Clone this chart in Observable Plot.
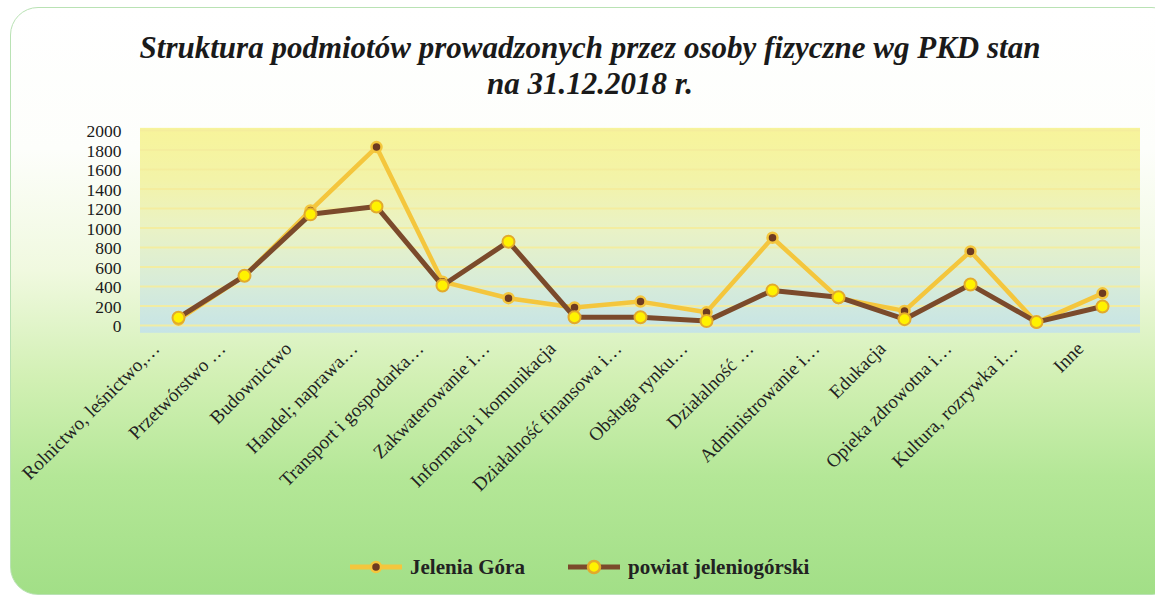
<!DOCTYPE html>
<html>
<head>
<meta charset="utf-8">
<script src="https://cdn.jsdelivr.net/npm/d3@7"></script>
<script src="https://cdn.jsdelivr.net/npm/@observablehq/plot@0.6"></script>
<style>
  html, body { margin: 0; padding: 0; width: 1155px; height: 600px; overflow: hidden; background: #ffffff; }
  #frame {
    position: absolute; left: 10px; top: 7px; width: 1170px; height: 588px;
    border: 1px solid #b9e2b4; border-radius: 28px; box-sizing: border-box;
    background: linear-gradient(to bottom, #ffffff 0%, #fdfefb 24%, #f0f9df 45%, #d2f0b4 63%, #b4e797 80%, #a2df87 100%);
  }
  #title {
    position: absolute; left: 0; top: 30px; width: 1180px; text-align: center;
    font-family: "Liberation Serif", "Times New Roman", serif; font-weight: bold; font-style: italic;
    font-size: 31px; line-height: 36px; color: #1a1a1a;
  }
  #chart { position: absolute; left: 0; top: 105px; }
  #legend {
    position: absolute; left: 0; top: 552px; width: 1155px; height: 30px;
    font-family: "Liberation Serif", "Times New Roman", serif; font-weight: bold; font-size: 21px; color: #222;
  }
  .item { position: absolute; top: 0; display: flex; align-items: center; height: 30px; }
  .item svg { margin-right: 6px; }
</style>
</head>
<body>
<div id="frame"></div>
<div id="title">Struktura podmiotów prowadzonych przez osoby fizyczne wg PKD stan<br>na 31.12.2018 r.</div>
<div id="chart"></div>
<div id="legend"></div>
<script>
const categories = [
  "Rolnictwo, leśnictwo,…",
  "Przetwórstwo …",
  "Budownictwo",
  "Handel; naprawa…",
  "Transport i gospodarka…",
  "Zakwaterowanie i…",
  "Informacja i komunikacja",
  "Działalność finansowa i…",
  "Obsługa rynku…",
  "Działalność …",
  "Administrowanie i…",
  "Edukacja",
  "Opieka zdrowotna i…",
  "Kultura, rozrywka i…",
  "Inne"
];
const jeleniaGora = [60, 510, 1180, 1830, 450, 280, 185, 245, 135, 900, 280, 150, 760, 30, 330];
const powiat = [80, 510, 1140, 1220, 410, 860, 85, 85, 45, 360, 290, 65, 420, 35, 195];
const yTicks = [0, 200, 400, 600, 800, 1000, 1200, 1400, 1600, 1800, 2000];
const seriesNames = ["Jelenia Góra", "powiat jeleniogórski"];

const jgData = categories.map((c, i) => ({cat: c, v: jeleniaGora[i]}));
const pwData = categories.map((c, i) => ({cat: c, v: powiat[i]}));

const JG_LINE = "#f4c63d", JG_DOT = "#6e3b20";
const PW_LINE = "#7b4a2b", PW_DOT = "#fff200", PW_RING = "#e2aa2c";

const serif = "Liberation Serif, Times New Roman, serif";

const plot = Plot.plot({
  width: 1155,
  height: 420,
  marginTop: 25,
  marginBottom: 200,
  marginLeft: 140,
  marginRight: 15,
  style: {background: "transparent", fontFamily: serif, color: "#1a1a1a"},
  x: {type: "point", domain: categories, padding: 0.5, axis: null},
  y: {domain: [0, 2000], axis: null},
  marks: [
    Plot.rectY([0], {y1: -80, y2: 2022, fill: "url(#plotbg)"}),
    Plot.ruleY(yTicks, {stroke: "#f4ec9c", strokeWidth: 2, strokeOpacity: 0.9}),
    Plot.text(yTicks, {
      y: d => d, frameAnchor: "left", textAnchor: "end", lineAnchor: "middle",
      dx: -19, dy: 1, fontSize: 17.5, fontFamily: serif, fill: "#1a1a1a", text: d => String(d)
    }),
    Plot.line(jgData, {x: "cat", y: "v", stroke: JG_LINE, strokeWidth: 4.5}),
    Plot.dot(jgData, {x: "cat", y: "v", r: 5, fill: JG_DOT, stroke: JG_LINE, strokeWidth: 2.5}),
    Plot.line(pwData, {x: "cat", y: "v", stroke: PW_LINE, strokeWidth: 5}),
    Plot.dot(pwData, {x: "cat", y: "v", r: 6, fill: PW_DOT, stroke: PW_RING, strokeWidth: 2}),
    Plot.text(categories, {
      x: d => d, frameAnchor: "bottom", rotate: -45, textAnchor: "end", lineAnchor: "middle",
      dx: -22, dy: 20, fontSize: 19, fontFamily: serif, fill: "#222"
    })
  ]
});

const defs = d3.select(plot).insert("defs", ":first-child");
defs.html(`
  <linearGradient id="plotbg" x1="0" y1="0" x2="0" y2="1">
    <stop offset="0%" stop-color="#f7f49a"/>
    <stop offset="25%" stop-color="#f3f3a8"/>
    <stop offset="50%" stop-color="#e9f2c6"/>
    <stop offset="75%" stop-color="#d8ecd8"/>
    <stop offset="100%" stop-color="#c6e4e6"/>
  </linearGradient>`);
document.getElementById("chart").appendChild(plot);

// legend
const legend = d3.select("#legend");
const items = [
  {name: seriesNames[0], left: 348, line: JG_LINE, dot: JG_DOT, ring: JG_LINE, r: 5},
  {name: seriesNames[1], left: 566, line: PW_LINE, dot: PW_DOT, ring: PW_RING, r: 6}
];
for (const it of items) {
  const div = legend.append("div").attr("class", "item").style("left", it.left + "px");
  const s = div.append("svg").attr("width", 56).attr("height", 30);
  s.append("line").attr("x1", 2).attr("x2", 54).attr("y1", 15).attr("y2", 15)
    .attr("stroke", it.line).attr("stroke-width", 5);
  s.append("circle").attr("cx", 28).attr("cy", 15).attr("r", it.r)
    .attr("fill", it.dot).attr("stroke", it.ring).attr("stroke-width", 2.5);
  div.append("span").text(it.name);
}
</script>
</body>
</html>
